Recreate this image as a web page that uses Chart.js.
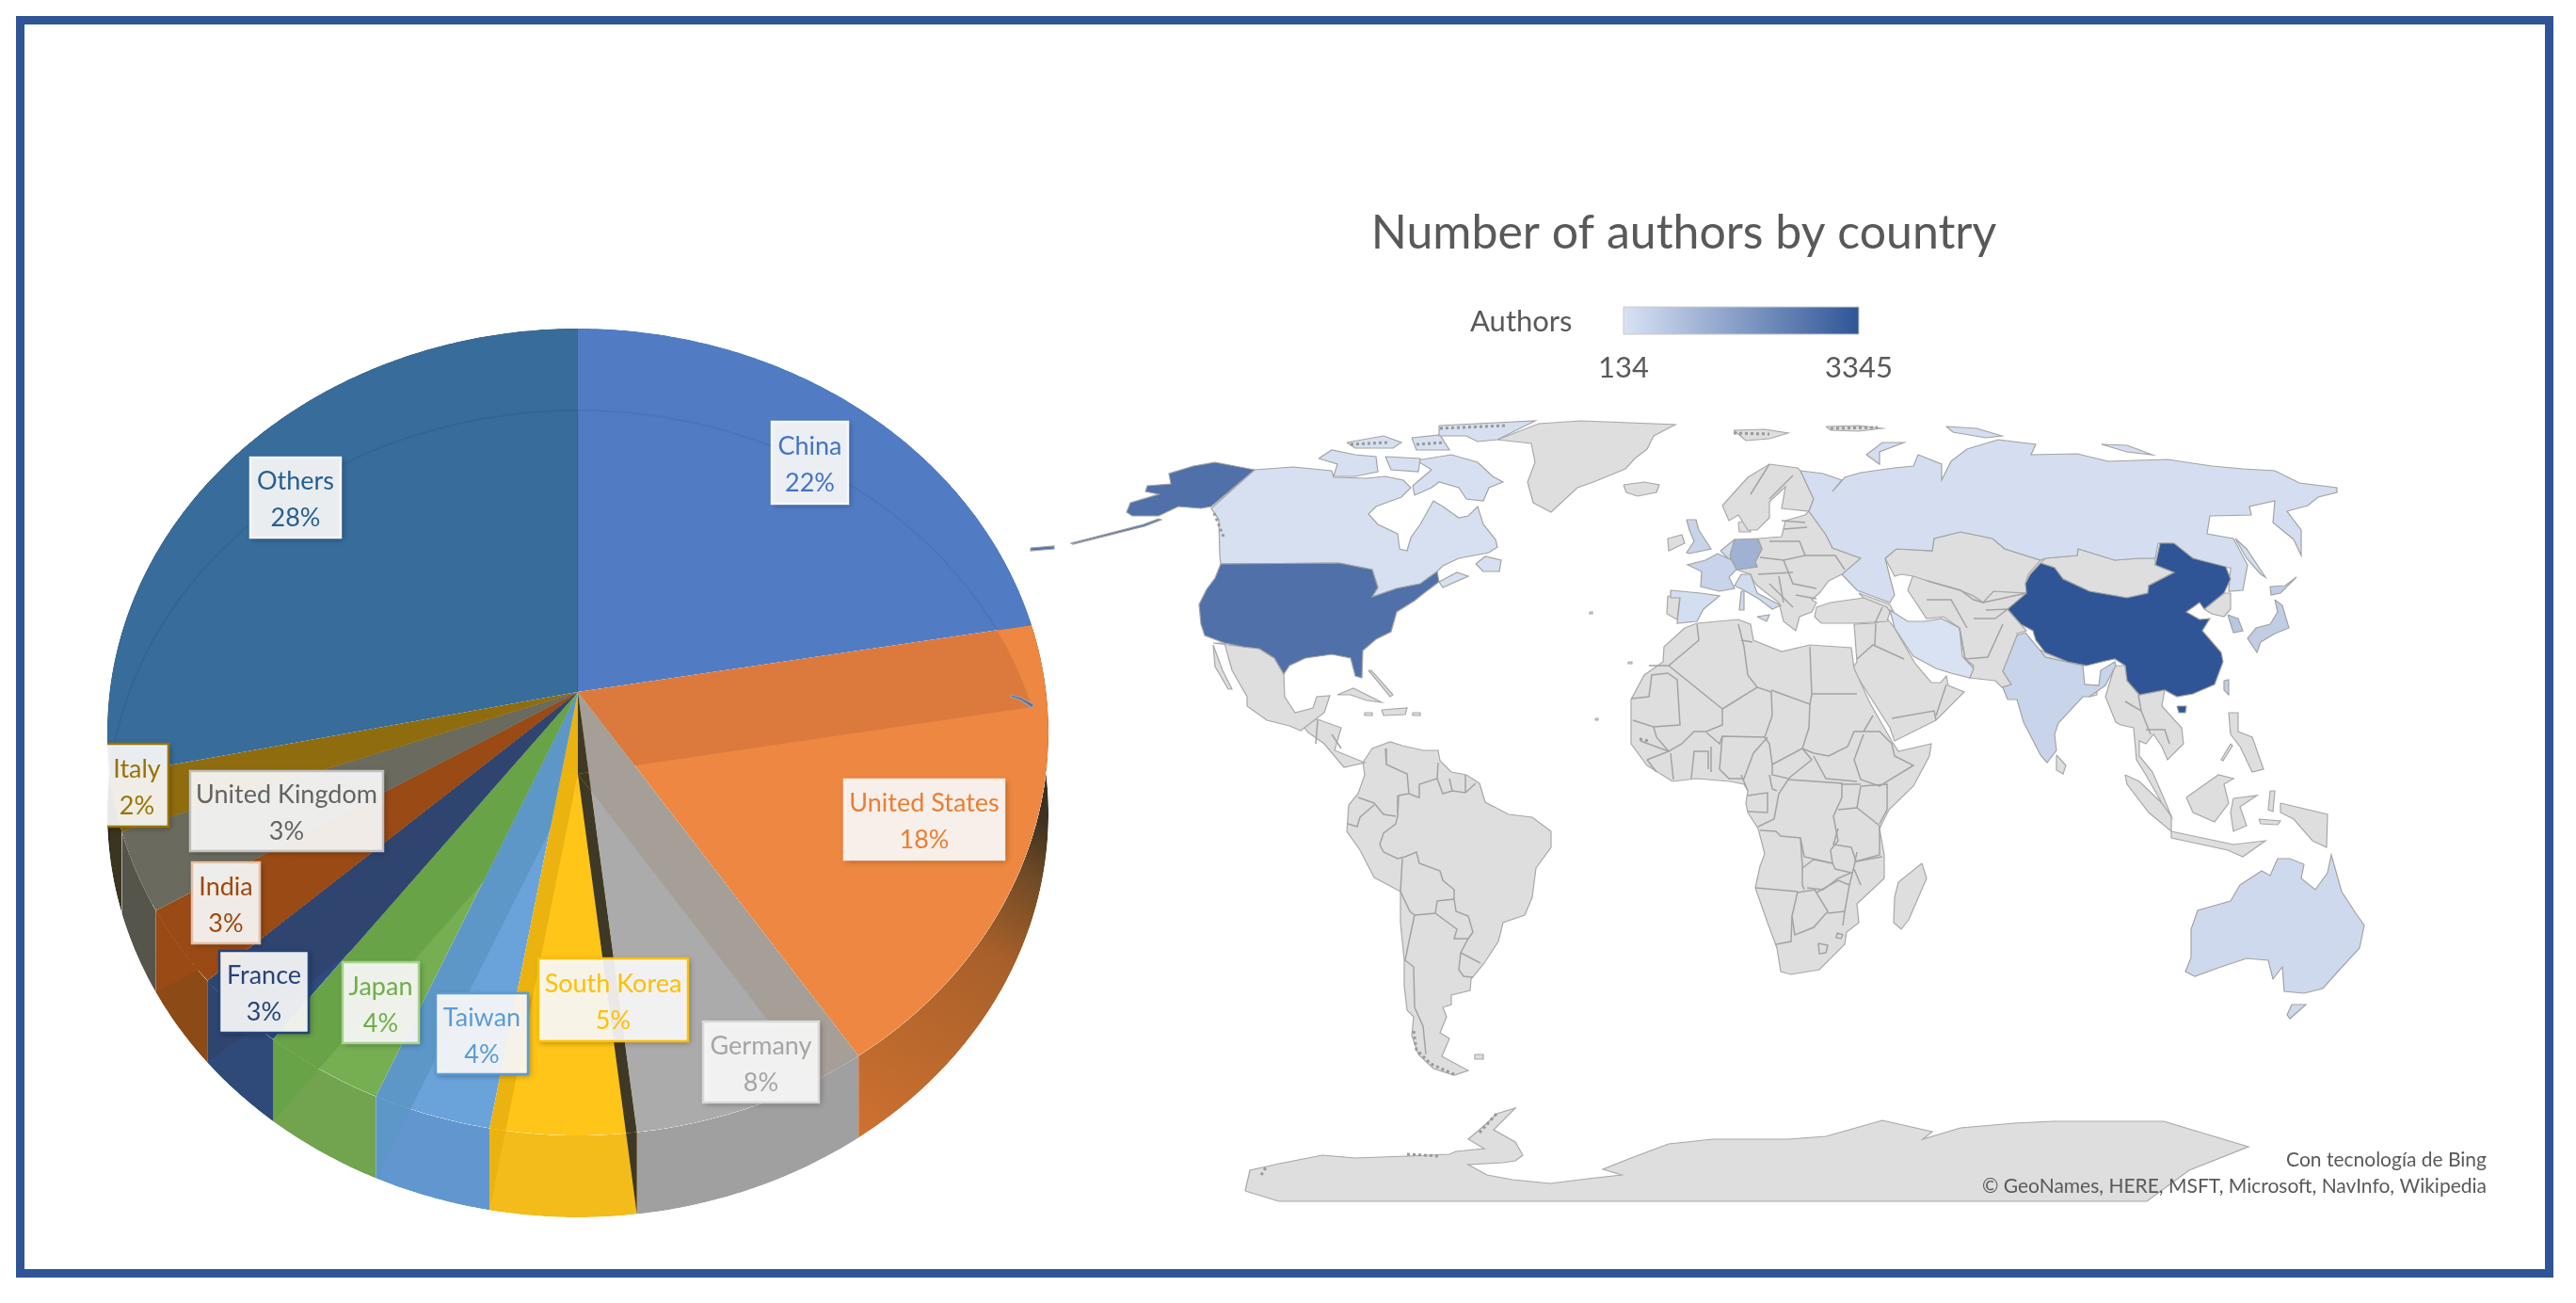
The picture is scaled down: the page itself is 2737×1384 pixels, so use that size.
<!DOCTYPE html>
<html>
<head>
<meta charset="utf-8">
<title>Number of authors by country</title>
<script src="https://cdn.jsdelivr.net/npm/chart.js@4"></script>
<style>
  html, body { margin: 0; padding: 0; background: #fff; }
  #page { position: relative; width: 2737px; height: 1384px; overflow: hidden; }
  #frame { position: absolute; left: 17px; top: 17px; width: 2678px; height: 1322px; border: 9px solid #2F5597; }
  #pieChart { position: absolute; left: 114px; top: 155px; filter: blur(0.7px); }
  #mapChart { position: absolute; left: 0; top: 0; filter: blur(0.7px); }
</style>
</head>
<body>
<div id="page">
  <div id="frame"></div>
  <canvas id="pieChart" width="1000" height="1160"></canvas>
  <canvas id="mapChart" width="2737" height="1384"></canvas>
</div>
<script>
// pie data
const categories = ['China', 'United States', 'Germany', 'South Korea', 'Taiwan', 'Japan', 'France', 'India', 'United Kingdom', 'Italy', 'Others'];
const shares = [22, 18, 8, 5, 4, 4, 3, 3, 3, 2, 28];

// chart text
const mapTitle = 'Number of authors by country';
const legendTitle = 'Authors';
const legendMin = 134;
const legendMax = 3345;
const creditLines = ['Con tecnología de Bing', '© GeoNames, HERE, MSFT, Microsoft, NavInfo, Wikipedia'];

// authors per coloured country
const authorCountries = ['China', 'United States', 'Germany', 'South Korea', 'Taiwan', 'Japan', 'France', 'India', 'United Kingdom', 'Italy', 'Spain', 'Canada', 'Russia', 'Australia', 'Iran', 'Netherlands'];
const authorCounts = [3345, 2737, 1216, 760, 608, 608, 456, 456, 456, 304, 220, 190, 230, 330, 134, 300];

// pie colours by slice
const textColors = ['#4472C4', '#ED7D31', '#A5A5A5', '#FFC000', '#5B9BD5', '#70AD47', '#264478', '#9E480E', '#636363', '#997300', '#255E91'];
const faceColors = ['#517CC4', '#ED8741', '#ABABAB', '#FFC518', '#6AA2DA', '#76AE52', '#2E4A80', '#9C4A14', '#6A6A5E', '#8F6D0E', '#376C9B'];
const earlyBand = ['#517CC4', '#DB7A3C', '#A69F97', '#3E3926', '#6AA2DA', '#76AE52', '#2E4A80', '#9C4A14', '#6A6A5E', '#8F6D0E', '#376C9B'];
const lateBand = ['#517CC4', '#ED8741', '#ABABAB', '#EBB30F', '#5C97C7', '#69A348', '#2F4570', '#9A4A14', '#6A6A5E', '#8F6D0E', '#376C9B'];
const wallColors = ['#517CC4', '#C46A2D', '#A0A0A0', '#F3BC1A', '#6197CE', '#72A34F', '#2F4A78', '#8C4A17', '#55554B', '#3A3520', '#2C2A20'];

// label boxes [left, top, right, bottom], page pixels
const labelBoxes = [[820, 448, 901, 535], [897, 828, 1067, 913], [747, 1085, 870, 1171], [572, 1018, 731, 1106], [463, 1055, 561, 1141], [364, 1022, 445, 1108], [233, 1010, 328, 1097], [204, 916, 276, 1002], [202, 819, 407, 904], [112, 790, 179, 878], [266, 486, 362, 571]];
const labelEdges = ['#F4F7FC', '#FBEDE3', '#D8D8D8', '#FFC000', '#5B9BD5', '#A9D18E', '#264478', '#E3BFA5', '#BFBFBF', '#997300', '#F4F7FC'];

// tilt of the pie: the rim is an ellipse whose middle sits below the pie's centre
const upperSquash = 386 / 500;
const lowerSquash = 471 / 500;
const rimDepth = 428.5;
const rimShift = 42.5;
const wallDrop = 87;

function rimPoint(arc, a, drop) {
    const sy = Math.sin(a);
    const dx = Math.cos(a), dy = sy * (sy < 0 ? upperSquash : lowerSquash);
    const r = arc.outerRadius;
    const qa = dx * dx / (r * r) + dy * dy / (rimDepth * rimDepth);
    const qb = -2 * dy * rimShift / (rimDepth * rimDepth);
    const qc = rimShift * rimShift / (rimDepth * rimDepth) - 1;
    const t = (-qb + Math.sqrt(qb * qb - 4 * qa * qc)) / (2 * qa);
    return [arc.x + t * dx, arc.y + drop + t * dy];
}

function angleSteps(arc) {
    const steps = Math.ceil((arc.endAngle - arc.startAngle) / 0.01);
    const angles = [];
    for (let s = 0; s <= steps; s++) angles.push(arc.startAngle + (arc.endAngle - arc.startAngle) * s / steps);
    return angles;
}

function wedge(ctx, arc, drop) {
    ctx.beginPath();
    ctx.moveTo(arc.x, arc.y + drop);
    angleSteps(arc).forEach(a => {
        const p = rimPoint(arc, a, drop);
        ctx.lineTo(p[0], p[1]);
    });
    ctx.closePath();
}

// the side of a slice, straight below its stretch of rim
function wallStrip(ctx, arc) {
    const angles = angleSteps(arc);
    ctx.beginPath();
    angles.forEach((a, k) => {
        const p = rimPoint(arc, a, 0);
        if (k === 0) ctx.moveTo(p[0], p[1]); else ctx.lineTo(p[0], p[1]);
    });
    angles.reverse().forEach(a => {
        const p = rimPoint(arc, a, wallDrop);
        ctx.lineTo(p[0], p[1]);
    });
    ctx.closePath();
}

function paintBands(ctx, arcs, i) {
    arcs.forEach((other, j) => {
        if (j === i) return;
        wedge(ctx, other, wallDrop);
        ctx.fillStyle = j < i ? earlyBand[i] : lateBand[i];
        ctx.fill();
    });
}

const tiltedPie = {
    id: 'tiltedPie',
    beforeDatasetDraw(chart) {
        const ctx = chart.ctx;
        const arcs = chart.getDatasetMeta(0).data;
        // side walls
        arcs.forEach((arc, i) => {
            let fill = wallColors[i];
            if (i === 1) {
                fill = ctx.createLinearGradient(801, 1042, 996, 715);
                fill.addColorStop(0, '#CC7030');
                fill.addColorStop(0.6, '#A8602A');
                fill.addColorStop(0.85, '#6E4A25');
                fill.addColorStop(1, '#3C3020');
            }
            ctx.save();
            wallStrip(ctx, arc);
            ctx.clip();
            ctx.fillStyle = fill;
            ctx.fill();
            if (i > 2 && i < 8) paintBands(ctx, arcs, i);
            ctx.restore();
        });
        // top face with its inner bands
        arcs.forEach((arc, i) => {
            ctx.save();
            wedge(ctx, arc, 0);
            ctx.clip();
            ctx.fillStyle = faceColors[i];
            ctx.fill();
            paintBands(ctx, arcs, i);
            ctx.restore();
        });
        // faint rim of the lowered face
        ctx.strokeStyle = 'rgba(0,0,0,0.06)';
        ctx.lineWidth = 2;
        [0, 10].forEach(i => {
            ctx.save();
            wedge(ctx, arcs[i], 0);
            ctx.clip();
            wedge(ctx, arcs[i], wallDrop);
            ctx.stroke();
            ctx.restore();
        });
        return false;
    },
    afterDraw(chart) {
        const ctx = chart.ctx;
        const left = chart.canvas.offsetLeft, top = chart.canvas.offsetTop;
        categories.forEach((name, i) => {
            const b = labelBoxes[i];
            const x = b[0] - left, y = b[1] - top, w = b[2] - b[0], h = b[3] - b[1];
            ctx.save();
            ctx.shadowColor = 'rgba(0,0,0,0.35)';
            ctx.shadowBlur = 6;
            ctx.shadowOffsetX = 2;
            ctx.shadowOffsetY = 2;
            ctx.fillStyle = 'rgba(255,255,255,0.9)';
            ctx.fillRect(x, y, w, h);
            ctx.restore();
            ctx.strokeStyle = labelEdges[i];
            ctx.lineWidth = 2.5;
            ctx.strokeRect(x, y, w, h);
            ctx.fillStyle = textColors[i];
            ctx.font = '27px Lato';
            ctx.textAlign = 'center';
            ctx.textBaseline = 'middle';
            ctx.fillText(name, x + w / 2, y + h / 2 - 17);
            ctx.fillText(shares[i] + '%', x + w / 2, y + h / 2 + 22);
        });
    }
};

new Chart(document.getElementById('pieChart'), {
    type: 'pie',
    data: { labels: categories, datasets: [{ data: shares, backgroundColor: faceColors, borderWidth: 0 }] },
    options: {
        responsive: false,
        animation: false,
        layout: { padding: 0 },
        plugins: { legend: { display: false }, tooltip: { enabled: false } }
    },
    plugins: [tiltedPie]
});

// map outlines as [x, y]
const china = [[2168,598],[2183,603],[2192,615],[2220,628],[2260,635],[2282,630],[2283,622],[2310,608],[2290,600],[2295,577],[2310,577],[2330,593],[2365,602],[2370,615],[2363,630],[2342,647],[2337,640],[2323,650],[2337,658],[2348,657],[2340,670],[2360,693],[2362,703],[2353,727],[2330,737],[2313,740],[2300,733],[2273,738],[2260,723],[2258,707],[2247,700],[2237,702],[2217,707],[2197,703],[2173,693],[2163,680],[2160,670],[2147,663],[2133,647],[2153,630],[2152,620],[2157,610]];
const hainan = [[2313,750],[2323,750],[2322,757],[2315,757]];
const usaMain = [[1297,599],[1423,598],[1458,605],[1464,624],[1458,634],[1484,625],[1509,620],[1527,607],[1529,618],[1513,630],[1503,638],[1484,650],[1478,671],[1462,679],[1448,691],[1447,720],[1440,718],[1435,699],[1415,695],[1387,699],[1370,707],[1364,716],[1354,699],[1338,689],[1321,687],[1301,683],[1280,675],[1276,663],[1274,642],[1282,626],[1291,614]];
const alaska = [[1333,499],[1291,491],[1268,495],[1242,503],[1244,514],[1219,516],[1217,522],[1231,525],[1201,534],[1197,544],[1203,548],[1231,548],[1252,538],[1276,540],[1287,538]];
const aleutians = [[1231,551],[1215,557],[1138,577],[1140,578],[1216,559],[1234,552]];
const hawaii = [[1074,738],[1085,741],[1098,748],[1097,752],[1085,744],[1074,740]];
const canadaMain = [[1333,499],[1374,496],[1415,500],[1417,507],[1452,508],[1472,506],[1491,510],[1499,518],[1489,528],[1462,538],[1454,546],[1464,557],[1485,567],[1487,583],[1495,585],[1499,571],[1509,557],[1523,532],[1533,538],[1550,550],[1560,548],[1570,538],[1576,557],[1589,573],[1591,581],[1582,587],[1550,593],[1533,601],[1527,607],[1509,620],[1484,625],[1458,634],[1464,624],[1458,605],[1423,598],[1297,599],[1296,590],[1295,552],[1287,540]];
const canadaVictoria = [[1401,487],[1415,478],[1440,483],[1462,485],[1464,501],[1440,506],[1417,506],[1421,493]];
const canadaSomerset = [[1472,485],[1509,487],[1507,501],[1478,499]];
const canadaBaffin = [[1505,489],[1542,483],[1570,491],[1586,506],[1597,512],[1582,518],[1576,532],[1558,530],[1550,518],[1529,512],[1521,518],[1503,526],[1501,516],[1521,499]];
const canadaEllesmere = [[1529,452],[1631,447],[1591,467],[1570,469],[1558,463],[1529,463]];
const canadaParry = [[1431,470],[1470,463],[1489,470],[1480,476],[1440,476]];
const canadaDevon = [[1500,465],[1530,462],[1540,478],[1505,478]];
const novaScotia = [[1529,618],[1533,624],[1560,612],[1548,608]];
const newfoundland = [[1568,599],[1578,591],[1595,595],[1593,607],[1576,607]];
const greenland = [[1591,467],[1635,450],[1680,447],[1780,451],[1757,463],[1750,477],[1737,487],[1727,498],[1693,512],[1676,518],[1648,544],[1629,534],[1623,512],[1631,491],[1627,471]];
const iceland = [[1725,515],[1747,512],[1763,515],[1760,523],[1740,527],[1728,523]];
const mexico = [[1289,683],[1321,687],[1338,689],[1354,699],[1364,716],[1365,740],[1376,757],[1395,752],[1399,740],[1413,739],[1407,757],[1399,763],[1382,776],[1370,771],[1346,765],[1325,750],[1325,740],[1309,712],[1301,683]];
const baja = [[1289,685],[1299,712],[1309,732],[1305,732],[1291,708]];
const centralAmerica = [[1382,768],[1400,764],[1425,773],[1418,797],[1450,810],[1428,815],[1407,790],[1390,778]];
const cuba = [[1421,738],[1438,731],[1468,746],[1452,744],[1435,738]];
const hispaniola = [[1468,754],[1495,752],[1493,759],[1470,760]];
const jamaica = [[1450,757],[1458,757],[1458,760],[1450,760]];
const puertoRico = [[1501,757],[1509,757],[1509,760],[1501,760]];
const southAmerica = [[1448,810],[1458,795],[1477,788],[1490,792],[1512,797],[1528,797],[1530,808],[1542,820],[1558,823],[1572,832],[1578,852],[1603,865],[1628,868],[1648,883],[1648,900],[1632,922],[1628,953],[1620,972],[1597,980],[1592,1000],[1577,1023],[1563,1040],[1562,1052],[1542,1057],[1542,1067],[1533,1070],[1537,1080],[1530,1097],[1540,1103],[1532,1122],[1560,1137],[1545,1142],[1523,1135],[1507,1120],[1500,1100],[1502,1080],[1495,1073],[1492,1047],[1492,1020],[1488,980],[1488,947],[1460,932],[1445,903],[1431,883],[1433,855],[1443,843],[1450,823]];
const falklands = [[1567,1120],[1576,1120],[1576,1125],[1567,1125]];
const antarctica = [[1323,1265],[1328,1243],[1359,1236],[1405,1227],[1440,1230],[1495,1228],[1540,1226],[1547,1223],[1557,1222],[1577,1220],[1560,1210],[1580,1193],[1590,1183],[1610,1177],[1587,1200],[1610,1213],[1618,1227],[1610,1233],[1597,1235],[1560,1237],[1580,1248],[1607,1253],[1647,1257],[1687,1252],[1723,1248],[1703,1242],[1733,1230],[1773,1215],[1820,1210],[1900,1210],[1940,1207],[2000,1190],[2053,1202],[2043,1210],[2083,1198],[2140,1193],[2181,1191],[2299,1191],[2389,1218],[2326,1243],[2281,1276],[1359,1276]];
const africa = [[1790,667],[1803,662],[1847,658],[1860,663],[1863,680],[1893,692],[1923,685],[1967,688],[1970,710],[1987,747],[2010,787],[2017,798],[2052,790],[2050,803],[2033,835],[2007,860],[1997,880],[2002,908],[2002,933],[1973,960],[1975,980],[1962,990],[1960,1003],[1933,1030],[1903,1035],[1892,1032],[1888,1007],[1878,980],[1865,943],[1870,920],[1875,907],[1868,880],[1857,863],[1855,853],[1857,840],[1853,833],[1838,830],[1803,827],[1777,830],[1750,813],[1733,790],[1733,763],[1733,743],[1747,717],[1767,703],[1768,687]];
const madagascar = [[2042,917],[2047,933],[2028,977],[2020,987],[2012,980],[2013,953],[2017,937]];
const sriLanka = [[2185,802],[2195,813],[2192,822],[2185,818]];
const russia = [[1913,500],[1937,503],[1957,510],[1947,522],[1960,507],[1977,502],[2013,497],[2033,495],[2038,483],[2063,493],[2063,510],[2073,490],[2090,477],[2123,467],[2163,472],[2158,483],[2207,482],[2240,490],[2303,488],[2350,495],[2383,498],[2417,500],[2443,513],[2483,518],[2483,523],[2463,528],[2452,537],[2430,543],[2445,563],[2445,590],[2437,573],[2415,555],[2417,532],[2390,538],[2392,547],[2348,548],[2345,567],[2373,572],[2388,600],[2383,627],[2368,628],[2370,603],[2357,603],[2323,590],[2307,577],[2293,577],[2290,593],[2273,593],[2247,595],[2208,583],[2207,590],[2173,593],[2168,595],[2130,583],[2117,572],[2083,565],[2055,572],[2053,585],[2015,583],[2003,593],[2008,613],[2013,632],[2008,640],[1973,627],[1957,610],[1977,593],[1947,582],[1940,568],[1922,543],[1927,530]];
const novayaZemlya = [[1983,483],[2000,470],[2023,470],[1997,480],[1997,493]];
const sakhalin = [[2375,572],[2387,583],[2407,613],[2402,610],[2387,593]];
const severnaya = [[2068,453],[2100,455],[2127,463],[2110,465],[2075,459]];
const newSiberia = [[2233,472],[2260,473],[2287,483],[2260,480]];
const kazakhstan = [[2003,593],[2015,583],[2053,585],[2055,572],[2083,565],[2117,572],[2130,583],[2168,595],[2155,610],[2152,620],[2155,630],[2118,628],[2107,640],[2097,633],[2083,627],[2048,617],[2033,612],[2020,610],[2013,612]];
const centralAsia = [[2033,610],[2048,617],[2083,627],[2097,633],[2107,640],[2118,628],[2155,630],[2133,647],[2153,670],[2143,673],[2147,687],[2128,713],[2137,727],[2127,730],[2120,723],[2093,720],[2097,707],[2088,700],[2082,667],[2065,655],[2047,657],[2027,627]];
const iran = [[2008,648],[2027,660],[2045,660],[2063,657],[2082,667],[2085,697],[2097,710],[2093,720],[2073,715],[2057,710],[2033,697],[2028,690],[2013,667]];
const india = [[2143,675],[2152,672],[2167,690],[2173,698],[2213,707],[2215,727],[2230,728],[2232,712],[2247,703],[2248,707],[2237,728],[2220,740],[2213,740],[2187,768],[2183,780],[2185,797],[2175,810],[2168,802],[2150,767],[2143,743],[2133,743],[2128,730],[2137,727],[2128,713]];
const nepal = [[2167,690],[2173,693],[2197,703],[2217,707],[2213,707],[2173,698]];
const bangladesh = [[2215,727],[2228,728],[2228,738],[2220,740]];
const mongolia = [[2168,598],[2173,593],[2207,590],[2208,583],[2247,595],[2273,593],[2290,593],[2290,600],[2310,608],[2283,622],[2282,630],[2260,635],[2220,628],[2192,615],[2183,603]];
const northKorea = [[2342,647],[2363,630],[2370,630],[2370,647],[2363,655],[2350,652]];
const southKorea = [[2367,653],[2378,657],[2383,670],[2373,672]];
const taiwan = [[2363,723],[2368,722],[2368,738],[2363,733]];
const hokkaido = [[2412,623],[2428,622],[2440,613],[2423,630],[2413,632]];
const honshu = [[2417,637],[2425,643],[2432,667],[2417,673],[2402,682],[2398,693],[2388,678],[2397,667],[2412,663],[2420,650]];
const indochina = [[2247,707],[2258,707],[2260,723],[2273,738],[2300,733],[2297,750],[2318,773],[2320,790],[2303,807],[2297,793],[2288,780],[2280,790],[2273,787],[2273,803],[2287,820],[2300,850],[2307,867],[2297,853],[2280,823],[2270,807],[2267,773],[2253,770],[2248,767],[2237,740]];
const sumatra = [[2258,823],[2273,830],[2297,853],[2307,867],[2307,883],[2283,863],[2260,833]];
const java = [[2307,883],[2340,890],[2373,897],[2407,893],[2383,910],[2367,903],[2307,890]];
const borneo = [[2323,847],[2357,823],[2373,827],[2363,833],[2368,853],[2353,873],[2330,863]];
const sulawesi = [[2373,848],[2398,845],[2380,857],[2387,877],[2373,883],[2370,863]];
const philippines = [[2368,757],[2378,757],[2378,777],[2393,783],[2405,817],[2393,820],[2380,793],[2370,780]];
const palawan = [[2370,790],[2360,807],[2362,808],[2372,792]];
const newGuinea = [[2423,853],[2473,865],[2472,900],[2457,893],[2437,870],[2423,863]];
const halmahera = [[2412,840],[2417,840],[2415,862],[2410,860]];
const seram = [[2400,870],[2423,872],[2420,876],[2402,875]];
const australia = [[2420,912],[2433,912],[2448,918],[2445,933],[2460,945],[2473,927],[2477,908],[2488,947],[2503,970],[2512,983],[2507,1007],[2483,1033],[2468,1050],[2448,1055],[2427,1053],[2425,1027],[2415,1040],[2410,1020],[2387,1018],[2357,1028],[2332,1037],[2322,1032],[2328,1017],[2328,987],[2335,967],[2370,957],[2380,940],[2403,925],[2412,930]];
const tasmania = [[2435,1067],[2450,1067],[2433,1082],[2430,1078]];
const germany = [[1843,573],[1867,572],[1872,583],[1865,597],[1867,602],[1845,605],[1838,590]];
const france = [[1825,588],[1840,595],[1845,605],[1837,613],[1843,625],[1827,628],[1807,623],[1808,607],[1793,600],[1812,595]];
const spain = [[1775,627],[1807,630],[1827,633],[1810,647],[1803,660],[1782,662],[1785,635],[1775,635]];
const portugal = [[1772,633],[1785,633],[1782,658],[1771,652]];
const britain = [[1792,552],[1802,552],[1805,563],[1818,583],[1795,588],[1792,587],[1800,575],[1795,563]];
const ireland = [[1772,572],[1787,568],[1790,577],[1773,585]];
const italy = [[1850,610],[1860,610],[1867,630],[1892,643],[1883,647],[1870,637],[1853,627],[1843,622]];
const sicily = [[1867,655],[1880,653],[1877,660]];
const sardinia = [[1850,628],[1853,628],[1853,648],[1848,648]];
const netherlands = [[1828,585],[1843,573],[1840,587],[1838,595]];
const scandinavia = [[1830,537],[1857,507],[1880,493],[1910,497],[1913,500],[1927,530],[1922,543],[1893,540],[1897,517],[1880,533],[1880,550],[1867,563],[1857,563],[1847,547],[1837,553]];
const denmark = [[1847,555],[1855,553],[1860,565],[1848,565]];
const easternEurope = [[1868,572],[1893,570],[1897,553],[1918,547],[1922,543],[1940,568],[1947,582],[1977,593],[1973,603],[1957,610],[1943,617],[1933,630],[1925,637],[1930,640],[1925,650],[1912,655],[1908,670],[1895,660],[1890,640],[1867,622],[1862,615],[1860,610],[1845,605],[1867,602],[1865,597],[1872,583]];
const turkey = [[1930,645],[1945,640],[1980,635],[2005,645],[2008,650],[2005,660],[1970,662],[1935,662],[1928,655]];
const caucasus = [[1975,630],[2008,642],[2012,650],[2000,645],[1980,635]];
const arabia = [[1970,663],[1993,662],[2005,657],[2013,667],[2028,693],[2035,705],[2052,725],[2062,725],[2068,718],[2070,728],[2087,735],[2057,765],[2013,787],[2008,773],[1987,740],[1968,710],[1973,703]];
const svalbard = [[1842,457],[1875,456],[1900,460],[1880,466],[1855,468]];
const franzJosef = [[1940,453],[1975,452],[2000,455],[1975,458],[1945,457]];
const atlanticIslands = [[1730,703],[1734,703],[1734,705],[1730,705]];
const capeVerde = [[1695,763],[1698,763],[1698,765],[1695,765]];
const azores = [[1689,650],[1692,650],[1692,652],[1689,652]];
const bahamas = [[1454,712],[1457,712],[1480,738],[1477,740]];
const aleutianWest = [[1095,582],[1120,580],[1120,583],[1095,585]];

// land shapes with the country that colours them
const shapeNames = ['China', 'China', 'United States', 'United States', 'United States', 'United States', 'United States', 'Canada', 'Canada', 'Canada', 'Canada', 'Canada', 'Canada', 'Canada', 'Canada', 'Canada', 'Russia', 'Russia', 'Russia', 'Russia', 'Russia', 'Iran', 'India', 'South Korea', 'Taiwan', 'Japan', 'Japan', 'Australia', 'Australia', 'Germany', 'France', 'Spain', 'United Kingdom', 'Italy', 'Italy', 'Italy', 'Netherlands'];
const shapeOutlines = [china, hainan, usaMain, alaska, aleutians, hawaii, aleutianWest, canadaMain, canadaVictoria, canadaSomerset, canadaBaffin, canadaEllesmere, canadaParry, canadaDevon, novaScotia, newfoundland, russia, novayaZemlya, sakhalin, severnaya, newSiberia, iran, india, southKorea, taiwan, hokkaido, honshu, australia, tasmania, germany, france, spain, britain, italy, sicily, sardinia, netherlands];
const greyOutlines = [greenland, iceland, mexico, baja, centralAmerica, cuba, hispaniola, jamaica, puertoRico, southAmerica, falklands, antarctica, africa, madagascar, sriLanka, kazakhstan, centralAsia, nepal, bangladesh, mongolia, northKorea, indochina, sumatra, java, borneo, sulawesi, philippines, palawan, newGuinea, halmahera, seram, portugal, ireland, scandinavia, denmark, easternEurope, turkey, caucasus, arabia, svalbard, franzJosef, atlanticIslands, capeVerde, azores, bahamas];

// borders inside the grey land
const borderLines = [
    [[1472,795],[1473,812],[1495,822],[1497,843],[1507,847],[1508,833],[1527,827],[1528,810]],
    [[1527,827],[1533,843],[1543,840],[1557,842],[1568,832]], [[1540,827],[1543,840]], [[1557,823],[1557,842]],
    [[1443,847],[1460,853],[1470,865],[1483,867]], [[1460,855],[1445,868],[1442,878],[1432,875]],
    [[1497,843],[1486,845],[1485,867],[1483,875],[1470,885],[1466,897],[1470,905],[1485,912],[1493,910],[1505,905],[1508,917],[1530,925],[1533,935],[1545,945],[1545,955]],
    [[1490,912],[1488,947],[1498,968],[1503,972],[1525,970],[1527,957],[1545,955],[1547,968],[1560,973],[1565,990],[1560,997],[1552,1012],[1573,1023]],
    [[1525,970],[1548,987],[1545,997],[1560,997]], [[1552,1012],[1550,1030],[1555,1037],[1565,1038]],
    [[1503,972],[1497,1000],[1493,1020],[1502,1027],[1503,1070],[1512,1090],[1515,1120]],
    [[1803,663],[1805,680],[1773,707],[1752,707]], [[1773,707],[1830,753],[1830,770],[1813,777],[1800,777],[1787,790],[1773,798],[1760,783],[1757,772],[1735,765]],
    [[1733,742],[1752,740],[1755,717],[1772,715],[1782,722],[1785,770],[1757,772]],
    [[1830,753],[1867,730],[1882,735],[1883,760],[1875,783],[1830,782],[1827,790],[1813,778]],
    [[1847,663],[1853,687],[1857,717],[1867,730]], [[1850,680],[1862,682]],
    [[1923,687],[1925,738],[1923,748],[1882,733]], [[1925,737],[1973,737]],
    [[1923,748],[1922,773],[1915,795],[1883,812],[1880,790],[1875,783]],
    [[1915,795],[1927,800],[1943,803],[1963,793],[1970,777],[1980,777],[1990,760]],
    [[1980,780],[1970,807],[1977,828],[1997,835],[2033,813],[2013,803],[2010,790],[1997,777],[1980,777]],
    [[1883,812],[1883,823],[1900,827],[1925,807],[1915,795]], [[1927,803],[1940,827],[1973,830]],
    [[1830,782],[1827,817],[1837,827],[1853,827],[1863,800],[1878,783]],
    [[1797,827],[1800,798],[1815,798],[1815,817]], [[1818,793],[1818,820]], [[1775,800],[1778,828]], [[1743,787],[1773,798],[1750,807]], [[1750,807],[1760,820]],
    [[1900,828],[1957,832],[1957,847],[1948,867],[1953,893],[1945,903],[1947,917],[1917,910],[1913,890],[1892,888],[1887,883],[1870,882]],
    [[1900,828],[1890,843],[1885,870],[1868,878]], [[1857,845],[1878,842],[1878,863],[1857,862]],
    [[1857,840],[1850,823]], [[1880,823],[1883,838],[1888,840]],
    [[1865,943],[1910,947]], [[1913,890],[1915,920],[1915,940],[1917,945]],
    [[1915,922],[1927,913],[1947,917],[1950,923],[1967,927],[1953,933],[1937,945],[1920,943]],
    [[1910,947],[1904,973],[1903,1000],[1887,1003]],
    [[1910,948],[1928,945],[1942,968],[1927,985],[1907,993],[1904,973]],
    [[1930,948],[1953,935],[1965,940],[1960,968],[1942,970]], [[1965,940],[1970,920],[1973,905]], [[1972,915],[2000,910]], [[1960,968],[1958,983]],
    [[1953,860],[1973,858],[1997,877],[1997,908],[1972,915],[1967,900],[1948,897],[1953,880]],
    [[1973,858],[1977,835],[2005,833],[2005,860],[1997,875]], [[1957,833],[1977,833]], [[1970,923],[1977,940]],
    [[1932,1002],[1942,1004],[1940,1012],[1933,1013],[1932,1002]], [[1952,991],[1958,993],[1956,997],[1951,996],[1952,991]],
    [[1973,700],[1990,685],[2023,700]], [[2010,763],[2055,755],[2057,765]], [[2068,727],[2057,760]], [[1993,663],[1992,685]],
    [[2048,617],[2083,627],[2097,637],[2107,640]], [[2047,637],[2073,637],[2090,667]], [[2097,657],[2120,657]],
    [[2082,667],[2088,700],[2112,698],[2128,663]], [[2107,640],[2153,630]], [[2110,648],[2133,647],[2120,657]],
    [[1880,575],[1912,575],[1918,590],[1895,595],[1870,592]], [[1918,590],[1950,590],[1960,605]], [[1895,595],[1905,620],[1930,625]],
    [[1868,610],[1905,608]], [[1890,612],[1895,640]], [[1880,620],[1905,645]], [[1908,632],[1930,636]],
    [[1893,553],[1918,555]], [[1895,562],[1920,560]], [[1860,525],[1880,493]], [[1880,530],[1905,505]], [[1992,662],[2000,645]],
    [[1400,765],[1398,790]], [[1415,780],[1425,795]], [[2280,775],[2300,775],[2305,790]], [[2258,745],[2275,755],[2285,780]], [[2272,738],[2275,755]]
];

// dark clusters of tiny islands, drawn as a broken line
const clusterLines = [
    [[1502,1095],[1505,1115],[1520,1130],[1545,1141]], [[1742,785],[1752,787]], [[1290,545],[1300,570]],
    [[1530,455],[1600,452]], [[1435,472],[1475,470]], [[1505,472],[1535,470]], [[1842,460],[1880,461]], [[1945,455],[1995,454]],
    [[1590,1183],[1572,1203]], [[1340,1248],[1345,1240]], [[1495,1226],[1530,1228]]
];

function colourFor(count) {
    const t = (count - legendMin) / (legendMax - legendMin);
    const low = [217, 226, 243], high = [47, 85, 151];
    return 'rgb(' + low.map((c, i) => Math.round(c + (high[i] - c) * t)).join(',') + ')';
}

function toRing(outline) {
    const points = outline.map(p => ({ x: p[0], y: p[1] }));
    points.push(points[0]);
    return points;
}

const borderDatasets = borderLines.map(line => ({
    data: line.map(p => ({ x: p[0], y: p[1] })), showLine: true, fill: false,
    borderColor: '#A3A3A3', borderWidth: 1.5, pointRadius: 0
}));
const clusterDatasets = clusterLines.map(line => ({
    data: line.map(p => ({ x: p[0], y: p[1] })), showLine: true, fill: false,
    borderColor: '#999999', borderWidth: 3, borderDash: [3, 3], pointRadius: 0
}));
const colouredDatasets = shapeOutlines.map((outline, i) => ({
    label: shapeNames[i], data: toRing(outline), showLine: true, fill: 'shape',
    backgroundColor: colourFor(authorCounts[authorCountries.indexOf(shapeNames[i])]),
    borderColor: '#A3A3A3', borderWidth: 1.2, pointRadius: 0
}));
const greyDatasets = greyOutlines.map(outline => ({
    data: toRing(outline), showLine: true, fill: 'shape',
    backgroundColor: '#DEDEDE', borderColor: '#A8A8A8', borderWidth: 1.2, pointRadius: 0
}));

const mapText = {
    id: 'mapText',
    afterDraw(chart) {
        const ctx = chart.ctx;
        const px = chart.scales.x, py = chart.scales.y;
        ctx.save();
        ctx.textBaseline = 'middle';
        ctx.fillStyle = '#595959';
        ctx.textAlign = 'center';
        ctx.font = '50px Lato';
        ctx.fillText(mapTitle, px.getPixelForValue(1789), py.getPixelForValue(248));
        ctx.textAlign = 'left';
        ctx.font = '31px Lato';
        ctx.fillText(legendTitle, px.getPixelForValue(1562), py.getPixelForValue(342));
        ctx.textAlign = 'center';
        ctx.fillText(String(legendMin), px.getPixelForValue(1725), py.getPixelForValue(391));
        ctx.fillText(String(legendMax), px.getPixelForValue(1975), py.getPixelForValue(391));
        const bar = ctx.createLinearGradient(1725, 0, 1975, 0);
        bar.addColorStop(0, colourFor(legendMin));
        bar.addColorStop(1, colourFor(legendMax));
        ctx.fillStyle = bar;
        ctx.fillRect(1725, 326, 250, 29);
        ctx.strokeStyle = '#C9C9C9';
        ctx.lineWidth = 1;
        ctx.strokeRect(1725, 326, 250, 29);
        ctx.fillStyle = '#595959';
        ctx.textAlign = 'right';
        ctx.font = '21px Lato';
        ctx.fillText(creditLines[0], px.getPixelForValue(2642), py.getPixelForValue(1232));
        ctx.fillText(creditLines[1], px.getPixelForValue(2642), py.getPixelForValue(1260));
        ctx.restore();
    }
};

new Chart(document.getElementById('mapChart'), {
    type: 'scatter',
    data: { datasets: borderDatasets.concat(clusterDatasets, colouredDatasets, greyDatasets) },
    options: {
        responsive: false,
        animation: false,
        layout: { padding: 0 },
        scales: {
            x: { type: 'linear', min: 0, max: 2737, display: false },
            y: { type: 'linear', min: 0, max: 1384, reverse: true, display: false }
        },
        plugins: { legend: { display: false }, tooltip: { enabled: false } }
    },
    plugins: [mapText]
});
</script>
</body>
</html>
